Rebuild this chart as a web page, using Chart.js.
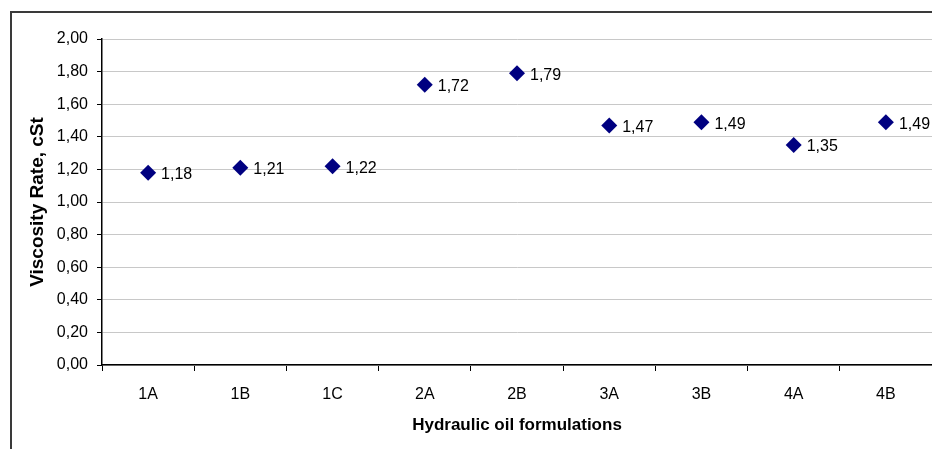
<!DOCTYPE html>
<html>
<head>
<meta charset="utf-8">
<script src="https://cdn.jsdelivr.net/npm/chart.js@4/dist/chart.umd.min.js"></script>
<style>
  html, body { margin: 0; padding: 0; background: #ffffff; }
  #wrap { width: 932px; height: 449px; position: relative; }
</style>
</head>
<body>
<div id="wrap"><canvas id="c" width="932" height="449"></canvas></div>
<script>
// Kinematic viscosity rate per hydraulic oil formulation
const formulations = ['1A', '1B', '1C', '2A', '2B', '3A', '3B', '4A', '4B'];
const viscosityRate = [1.18, 1.21, 1.22, 1.72, 1.79, 1.47, 1.49, 1.35, 1.49];
const yTicks = [0, 0.2, 0.4, 0.6, 0.8, 1.0, 1.2, 1.4, 1.6, 1.8, 2.0];

const fmt = v => v.toFixed(2).replace('.', ',');
const FONT = "'Liberation Sans', Arial, sans-serif";

// Frame around the whole chart object (left and top edges visible)
const framePlugin = {
  id: 'frame',
  beforeDraw(chart) {
    const ctx = chart.ctx;
    ctx.save();
    ctx.fillStyle = '#ffffff';
    ctx.fillRect(0, 0, chart.width, chart.height);
    ctx.strokeStyle = '#3a3a3a';
    ctx.lineWidth = 2;
    ctx.beginPath();
    ctx.moveTo(11, chart.height + 2);
    ctx.lineTo(11, 12);
    ctx.lineTo(chart.width + 2, 12);
    ctx.stroke();
    ctx.restore();
  }
};

// Value labels to the right of each marker
const valueLabels = {
  id: 'valueLabels',
  afterDatasetsDraw(chart) {
    const ctx = chart.ctx;
    const meta = chart.getDatasetMeta(0);
    ctx.save();
    ctx.font = '16px ' + FONT;
    ctx.fillStyle = '#000000';
    ctx.textAlign = 'left';
    ctx.textBaseline = 'middle';
    meta.data.forEach((pt, i) => {
      ctx.fillText(fmt(viscosityRate[i]), pt.x + 13, pt.y + 2);
    });
    ctx.restore();
  }
};

new Chart(document.getElementById('c'), {
  type: 'line',
  data: {
    labels: formulations,
    datasets: [{
      data: viscosityRate,
      showLine: false,
      clip: false,
      pointStyle: 'rectRot',
      pointRadius: 8,
      pointHoverRadius: 8,
      pointBackgroundColor: '#000080',
      pointBorderColor: '#000080',
      pointBorderWidth: 0
    }]
  },
  options: {
    responsive: false,
    animation: false,
    events: [],
    layout: { autoPadding: false, padding: { left: 0, right: 0, top: 39, bottom: 0 } },
    plugins: {
      legend: { display: false },
      tooltip: { enabled: false }
    },
    scales: {
      x: {
        type: 'category',
        offset: true,
        afterFit(scale) {
          scale.height = 84;
          scale.paddingLeft = 0;
          scale.paddingRight = 0;
        },
        grid: {
          offset: true,
          drawOnChartArea: false,
          drawTicks: true,
          tickLength: 6,
          color: '#000000',
          lineWidth: 1
        },
        border: { color: '#000000', width: 1.5 },
        ticks: {
          color: '#000000',
          font: { family: FONT, size: 16 },
          padding: 14,
          maxRotation: 0,
          autoSkip: false
        },
        title: {
          display: true,
          text: 'Hydraulic oil formulations',
          color: '#000000',
          font: { family: FONT, size: 17, weight: 'bold' },
          padding: { top: 0, bottom: 13 }
        }
      },
      y: {
        min: 0,
        max: 2,
        afterFit(scale) {
          scale.width = 102;
          scale.paddingTop = 0;
          scale.paddingBottom = 0;
        },
        afterBuildTicks(scale) { scale.ticks = yTicks.map(v => ({ value: v })); },
        grid: {
          color: '#c8c8c8',
          lineWidth: 1,
          drawTicks: true,
          tickLength: 5,
          tickColor: '#000000'
        },
        border: { color: '#000000', width: 1.5 },
        ticks: {
          color: '#000000',
          font: { family: FONT, size: 16 },
          padding: 9,
          callback: v => fmt(v)
        },
        title: {
          display: true,
          text: 'Viscosity Rate, cSt',
          color: '#000000',
          font: { family: FONT, size: 19, weight: 'bold' },
          padding: { top: 26, bottom: 0 }
        }
      }
    }
  },
  plugins: [framePlugin, valueLabels]
});
</script>
</body>
</html>
